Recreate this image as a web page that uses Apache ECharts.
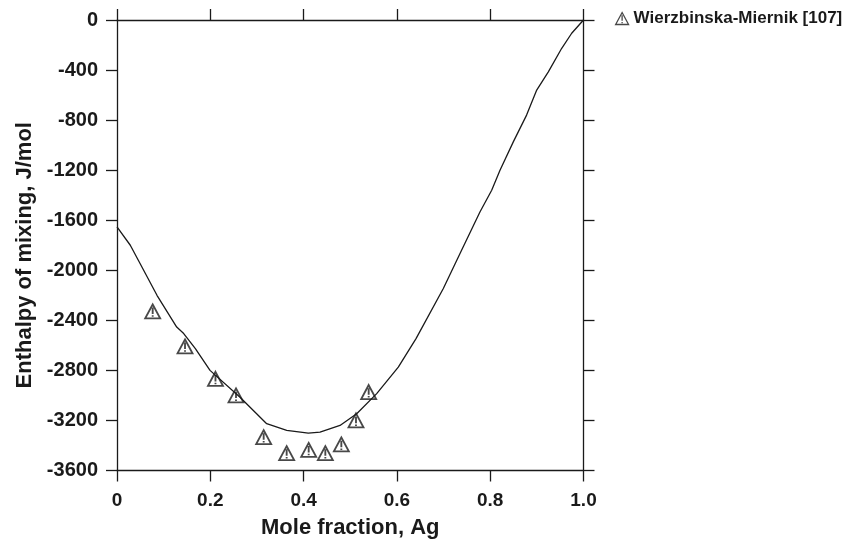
<!DOCTYPE html>
<html>
<head>
<meta charset="utf-8">
<script src="https://cdn.jsdelivr.net/npm/echarts@6/dist/echarts.min.js"></script>
<style>
  html, body { margin: 0; padding: 0; background: #fff; }
  #chart { width: 843px; height: 547px; }
</style>
</head>
<body>
<div id="chart"></div>
<script>
// calculated enthalpy of mixing curve (x Ag, J/mol)
const curveX = [0, 0.0285, 0.0457, 0.0857, 0.128, 0.143, 0.168, 0.1994, 0.2637, 0.3209, 0.3638,
  0.4101, 0.4352, 0.478, 0.5138, 0.5567, 0.603, 0.641, 0.6995, 0.7353, 0.778, 0.8032, 0.821,
  0.8495, 0.878, 0.8997, 0.9246, 0.9533, 0.9747, 1.0]
const curveY = [-1654, -1800, -1920, -2200, -2454, -2506, -2626, -2800, -3014, -3226, -3280,
  -3302, -3294, -3240, -3146, -2986, -2774, -2546, -2146, -1866, -1534, -1360, -1200,
  -974, -760, -560, -414, -226, -106, 0]

// experimental points, Wierzbinska-Miernik [107]
const expName = 'Wierzbinska-Miernik [107]'
const expX = [0.0765, 0.1458, 0.2111, 0.2551, 0.3144, 0.3637, 0.4109, 0.4466, 0.4809, 0.5123, 0.5395]
const expY = [-2328, -2608, -2867, -3000, -3333, -3461, -3435, -3461, -3392, -3200, -2973]

const xTicks = [0, 0.2, 0.4, 0.6, 0.8, 1.0]
const yTicks = [0, -400, -800, -1200, -1600, -2000, -2400, -2800, -3200, -3600]

const FONT = 'Liberation Sans'
const INK = '#1a1a1a'
const markerPath = 'path://M7,0 L14,13 L0,13 Z M7,3 L7,9 M7,10.2 L7,11.6'

const axisLine = { show: true, onZero: false, lineStyle: { color: INK, width: 1.3 } }
const axisTick = { show: true, inside: false, length: 11, lineStyle: { color: INK, width: 1.3 } }

const options = {
  animation: false,
  backgroundColor: '#fff',
  grid: { left: 117, right: 259.5, top: 20, bottom: 76.5 },
  legend: {
    left: 610,
    top: 5,
    itemWidth: 13,
    itemHeight: 12,
    data: [{ name: expName, icon: markerPath }],
    itemStyle: { color: 'rgba(0,0,0,0)', borderColor: INK, borderWidth: 1.3 },
    textStyle: { fontFamily: FONT, fontWeight: 'bold', fontSize: 17, color: INK }
  },
  xAxis: [
    {
      type: 'value',
      position: 'bottom',
      min: 0,
      max: 1,
      interval: 0.2,
      name: 'Mole fraction, Ag',
      nameLocation: 'middle',
      nameGap: 46,
      nameTextStyle: { fontFamily: FONT, fontWeight: 'bold', fontSize: 22, color: INK },
      axisLine,
      axisTick,
      splitLine: { show: false },
      axisLabel: {
        margin: 21,
        fontFamily: FONT,
        fontWeight: 'bold',
        fontSize: 19,
        color: INK,
        formatter: v => (xTicks.includes(v) ? (v === 0 ? '0' : v.toFixed(1)) : '')
      }
    },
    {
      type: 'value',
      position: 'top',
      min: 0,
      max: 1,
      interval: 0.2,
      axisLine,
      axisTick,
      splitLine: { show: false },
      axisLabel: { show: false }
    }
  ],
  yAxis: [
    {
      type: 'value',
      position: 'left',
      min: -3600,
      max: 0,
      interval: 400,
      name: 'Enthalpy of mixing, J/mol',
      nameLocation: 'middle',
      nameGap: 79,
      nameTextStyle: {
        fontFamily: FONT,
        fontWeight: 'bold',
        fontSize: 22,
        color: INK,
        padding: [0, 20, 0, 0]
      },
      axisLine,
      axisTick,
      splitLine: { show: false },
      axisLabel: {
        margin: 19,
        fontFamily: FONT,
        fontWeight: 'bold',
        fontSize: 20,
        color: INK,
        formatter: v => (yTicks.includes(v) ? String(v) : '')
      }
    },
    {
      type: 'value',
      position: 'right',
      min: -3600,
      max: 0,
      interval: 400,
      axisLine,
      axisTick,
      splitLine: { show: false },
      axisLabel: { show: false }
    }
  ],
  series: [
    {
      name: 'calc',
      type: 'line',
      data: curveX.map((x, i) => [x, curveY[i]]),
      showSymbol: false,
      smooth: false,
      lineStyle: { color: INK, width: 1.3 },
      silent: true
    },
    {
      name: expName,
      type: 'scatter',
      data: expX.map((x, i) => [x, expY[i]]),
      symbol: markerPath,
      symbolSize: [15, 14],
      itemStyle: { color: 'rgba(0,0,0,0)', borderColor: INK, borderWidth: 1.8 }
    }
  ]
}

const chart = echarts.init(document.getElementById('chart'), null, { renderer: 'canvas' })
chart.setOption(options)
</script>
</body>
</html>
